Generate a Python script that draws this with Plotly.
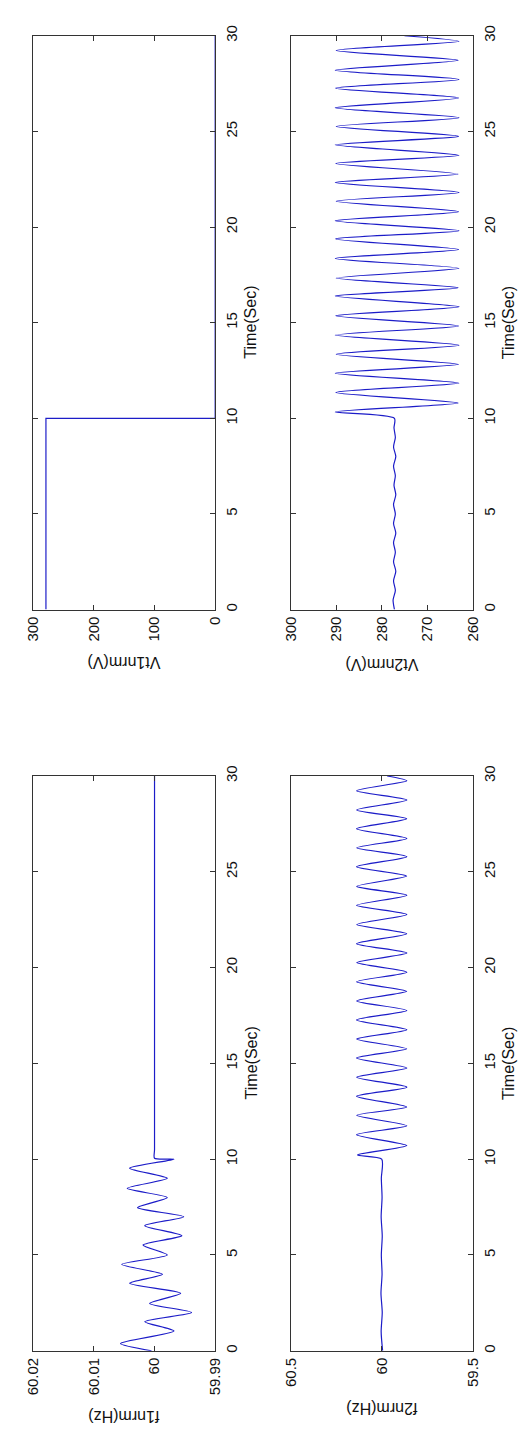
import plotly.graph_objects as go

# ---------------- data ----------------
# Vt1nrm(V)
vt1_t = [0, 1.9, 2.4, 2.9, 5.9, 6.4, 6.9, 10.0, 10.0, 30.0]
vt1_v = [279.0, 279.0, 278.0, 279.0, 279.0, 278.0, 279.0, 279.0, 0.0, 0.0]

# Vt2nrm(V)
vt2_t = [0.0, 0.5, 1.0, 1.5, 2.0, 2.5, 3.0, 3.5, 4.0, 4.5, 5.0, 5.5, 6.0, 6.5, 7.0,
         7.5, 8.0, 8.5, 9.0, 9.5, 10.0,
         10.33, 10.80, 11.35, 11.84, 12.36, 12.82, 13.35, 13.82, 14.35, 14.83,
         15.36, 15.83, 16.39, 16.82, 17.33, 17.84, 18.36, 18.82, 19.38, 19.81,
         20.33, 20.80, 21.35, 21.81, 22.33, 22.77, 23.32, 23.75, 24.30, 24.74,
         25.26, 25.72, 26.23, 26.75, 27.26, 27.72, 28.20, 28.72, 29.23, 29.71, 30.0]
vt2_v = [277.2, 277.5, 277.0, 277.4, 276.9, 277.4, 277.0, 277.4, 276.9, 277.4, 277.0,
         277.4, 276.9, 277.3, 277.0, 277.4, 276.9, 277.4, 277.0, 277.3, 277.2,
         290.2, 263.2, 290.1, 263.0, 290.2, 263.1, 290.0, 263.0, 290.2, 263.1,
         290.1, 263.0, 290.2, 263.2, 290.0, 263.0, 290.2, 263.1, 290.1, 263.0,
         290.2, 263.1, 290.0, 263.0, 290.2, 263.2, 290.1, 263.0, 290.2, 263.1,
         290.0, 263.0, 290.2, 263.1, 290.1, 263.0, 290.2, 263.2, 290.0, 263.0, 275.0]

# f1nrm(Hz)
f1_t = [0.0, 0.38, 1.03, 1.52, 2.0, 2.47, 3.0, 3.52, 3.99, 4.51, 5.0, 5.52, 6.01,
        6.53, 7.0, 7.47, 8.0, 8.48, 9.0, 9.53, 10.0, 10.05, 10.5, 30.0]
f1_v = [60.0005, 60.0056, 59.9968, 60.0016, 59.9939, 60.0008, 59.9957, 60.0041,
        59.9987, 60.0054, 59.9979, 60.0019, 59.9955, 60.0016, 59.9952, 60.0028,
        59.9979, 60.0045, 59.9979, 60.0041, 59.9968, 60.0, 60.0, 60.0]

# f2nrm(Hz)
f2_t = [0.0, 1.0, 2.0, 3.0, 4.0, 5.0, 6.0, 7.0, 8.0, 9.0, 10.0,
        10.22, 10.71, 11.28, 11.74, 12.29, 12.72, 13.29, 13.76, 14.28, 14.76,
        15.28, 15.76, 16.27, 16.76, 17.27, 17.76, 18.26, 18.76, 19.26, 19.76,
        20.26, 20.76, 21.25, 21.77, 22.25, 22.77, 23.25, 23.78, 24.24, 24.78,
        25.27, 25.79, 26.25, 26.74, 27.25, 27.77, 28.23, 28.75, 29.23, 29.75, 30.0]
f2_v = [59.995, 60.003, 59.997, 60.004, 59.998, 60.002, 59.997, 60.003, 59.998, 60.002, 60.0,
        60.133, 59.862, 60.138, 59.862, 60.137, 59.863, 60.138, 59.862, 60.137, 59.862,
        60.138, 59.863, 60.137, 59.862, 60.138, 59.862, 60.137, 59.863, 60.138, 59.862,
        60.137, 59.862, 60.138, 59.863, 60.137, 59.862, 60.138, 59.862, 60.137, 59.863,
        60.138, 59.862, 60.137, 59.862, 60.138, 59.863, 60.137, 59.862, 60.138, 59.862, 59.97]

# tick labels
time_ticks = [0, 5, 10, 15, 20, 25, 30]
vt1_ticks = [300, 200, 100, 0]
vt2_ticks = [300, 290, 280, 270, 260]
f1_ticks = [60.02, 60.01, 60.0, 59.99]
f1_ticktext = ["60.02", "60.01", "60", "59.99"]
f2_ticks = [60.5, 60.0, 59.5]
f2_ticktext = ["60.5", "60", "59.5"]

# ---------------- figure ----------------
W, H = 532, 1438
LINE = "#1c1cc8"
AX = "#333333"
FONT = "Liberation Sans, Arial, sans-serif"
FS = 15

colx = {"L": (25, 213), "R": (291, 479)}
rowy = {"T": (25, 604), "B": (772, 1352)}

def xdom(c):
    a, b = colx[c]
    return [a / W, b / W]

def ydom(r):
    a, b = rowy[r]
    return [1 - b / H, 1 - a / H]

fig = go.Figure()
fig.add_trace(go.Scatter(x=vt1_v, y=vt1_t, mode="lines", line=dict(color=LINE, width=1.2),
                         xaxis="x", yaxis="y"))
fig.add_trace(go.Scatter(x=vt2_v, y=vt2_t, mode="lines",
                         line=dict(color=LINE, width=1.2, shape="spline", smoothing=0.7),
                         xaxis="x2", yaxis="y2"))
fig.add_trace(go.Scatter(x=f1_v, y=f1_t, mode="lines",
                         line=dict(color=LINE, width=1.2, shape="spline", smoothing=0.7),
                         xaxis="x3", yaxis="y3"))
fig.add_trace(go.Scatter(x=f2_v, y=f2_t, mode="lines",
                         line=dict(color=LINE, width=1.2, shape="spline", smoothing=0.7),
                         xaxis="x4", yaxis="y4"))

common = dict(showline=True, linecolor=AX, linewidth=1, mirror="ticks", ticks="inside",
              ticklen=5, tickcolor=AX, showgrid=False, zeroline=False,
              tickfont=dict(family=FONT, size=FS, color="#111"), fixedrange=True)

def xax(c, r, rng, vals, text, anchor):
    return dict(domain=xdom(c), range=rng, tickvals=vals, ticktext=text, tickangle=-90,
                side="bottom", anchor=anchor, **common)

def yax(c, r, anchor):
    return dict(domain=ydom(r), range=[0, 30], tickvals=time_ticks, tickangle=-90,
                side="right", anchor=anchor, ticklabelstandoff=3, **common)

fig.update_layout(
    width=W, height=H, margin=dict(l=0, r=0, t=0, b=0),
    paper_bgcolor="white", plot_bgcolor="white", showlegend=False,
    xaxis=xax("L", "T", [300, 0], vt1_ticks, [str(v) for v in vt1_ticks], "y"),
    yaxis=yax("L", "T", "x"),
    xaxis2=xax("R", "T", [300, 260], vt2_ticks, [str(v) for v in vt2_ticks], "y2"),
    yaxis2=yax("R", "T", "x2"),
    xaxis3=xax("L", "B", [60.02, 59.99], f1_ticks, f1_ticktext, "y3"),
    yaxis3=yax("L", "B", "x3"),
    xaxis4=xax("R", "B", [60.5, 59.5], f2_ticks, f2_ticktext, "y4"),
    yaxis4=yax("R", "B", "x4"),
)

ann = []
def label(text, px, py, angle):
    ann.append(dict(text=text, x=px / W, y=1 - py / H, xref="paper", yref="paper",
                    showarrow=False, textangle=angle, xanchor="center", yanchor="middle",
                    font=dict(family=FONT, size=FS + 1, color="#111")))

label("Vt1nrm(V)", 119, 658, 180)
label("Vt2nrm(V)", 385, 660, 180)
label("f1nrm(Hz)", 119, 1419, 180)
label("f2nrm(Hz)", 385, 1411, 180)
tmid = (25 + 604) / 2
bmid = (772 + 1352) / 2
label("Time(Sec)", 250, tmid, -90)
label("Time(Sec)", 516, tmid, -90)
label("Time(Sec)", 250, bmid, -90)
label("Time(Sec)", 516, bmid, -90)
fig.update_layout(annotations=ann)

fig.write_html("out.html")
